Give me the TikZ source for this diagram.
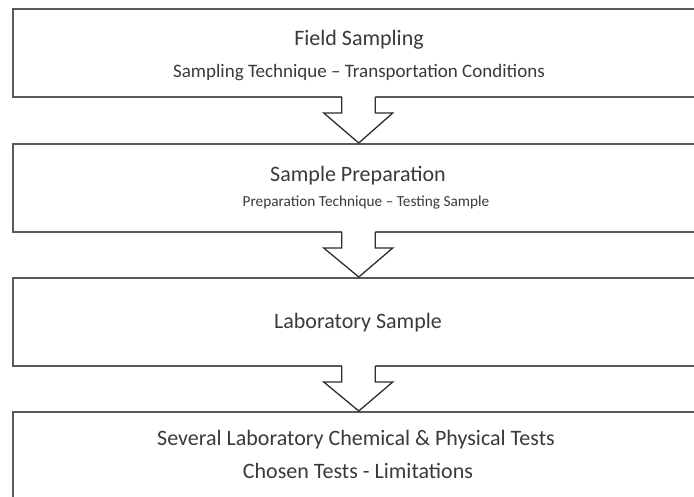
\documentclass[tikz,border=0pt]{standalone}
\usepackage{fontspec}
\setmainfont{Carlito}
\usetikzlibrary{calc}
\definecolor{boxline}{HTML}{5A5A5A}
\definecolor{arrline}{HTML}{2E2E2E}
\definecolor{txt}{HTML}{3A3A3A}
\tikzset{
  stage/.style={draw=boxline, line width=2pt, fill=white, rectangle,
    minimum width=692.5pt, minimum height=88pt, inner sep=0pt},
  title/.style={anchor=base, text=txt, font=\fontsize{22}{26}\selectfont, inner sep=0pt},
  subA/.style={anchor=base, text=txt, font=\fontsize{19}{23}\selectfont, inner sep=0pt},
  subB/.style={anchor=base, text=txt, font=\fontsize{15.3}{18}\selectfont, inner sep=0pt},
  flowline/.style={draw=arrline, line width=1.3pt, line join=miter},
}
% block arrow hanging from the bottom of box #1 down to the top of box #2
\newcommand{\blockarrow}[2]{%
  \fill[white] ($(#1.south)+(-17,-2)$) -- ($(#1.south)+(16.5,-2)$)
    -- ($(#1.south)+(16.5,15)$) -- ($(#1.south)+(34,15)$)
    -- (#2.north) -- ($(#1.south)+(-35,15)$) -- ($(#1.south)+(-17,15)$) -- cycle;
  \draw[flowline] ($(#1.south)+(-17,-1)$) -- ($(#1.south)+(-17,15)$)
    -- ($(#1.south)+(-35,15)$) -- (#2.north) -- ($(#1.south)+(34,15)$)
    -- ($(#1.south)+(16.5,15)$) -- ($(#1.south)+(16.5,-1)$);
}
\begin{document}
\begin{tikzpicture}[x=1pt,y=-1pt]
\useasboundingbox (0,0) rectangle (694,497);
\clip (0,0) rectangle (694,497);

\node[stage] (b1) at (358.75,53) {};
\node[stage] (b2) at (358.75,188) {};
\node[stage] (b3) at (358.75,322) {};
\node[stage] (b4) at (358.75,456) {};

\node[title] (t1) at (359,46) {Field Sampling};
\node[subA]  (s1) at (359,78) {Sampling Technique – Transportation Conditions};
\node[title] (t2) at (358,182) {Sample Preparation};
\node[subB]  (s2) at (366,207) {Preparation Technique – Testing Sample};
\node[title] (t3) at (358,328) {Laboratory Sample};
\node[title] (t4) at (356,445) {Several Laboratory Chemical \& Physical Tests};
\node[title] (s4) at (358,478) {Chosen Tests - Limitations};

\blockarrow{b1}{b2}
\blockarrow{b2}{b3}
\blockarrow{b3}{b4}
\end{tikzpicture}
\end{document}
